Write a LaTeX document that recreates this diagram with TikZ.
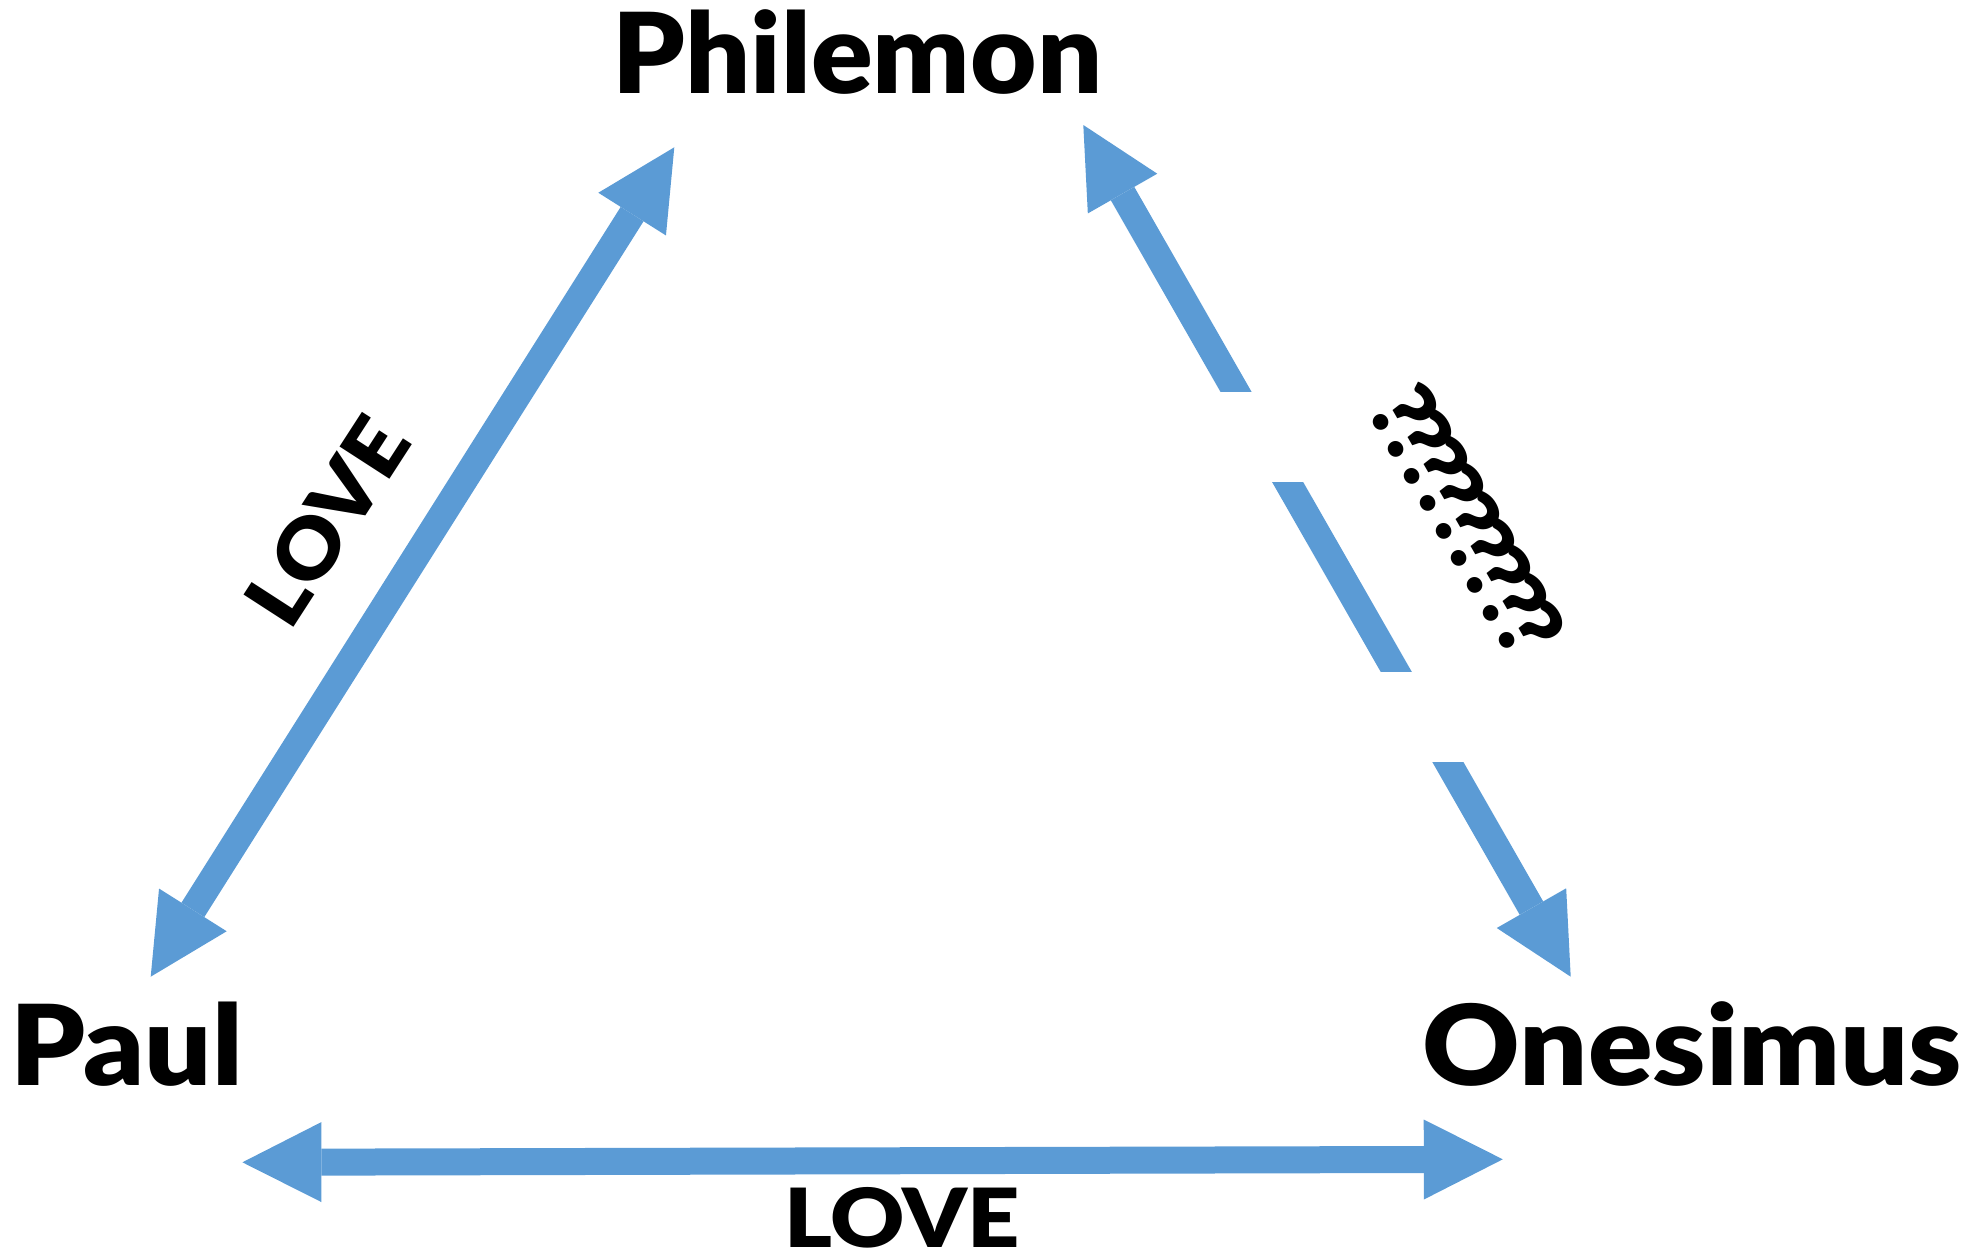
\documentclass[tikz,border=0pt]{standalone}
\usepackage{fontspec}
\usepackage{graphicx}
\usetikzlibrary{arrows.meta}
\IfFontExistsTF{Lato Black}{\newfontfamily\lbl{Lato Black}\def\lblwt{\relax}}{\newfontfamily\lbl{Lato}\def\lblwt{\bfseries}}
\definecolor{arrowblue}{HTML}{5B9BD5}
\newcommand\qmk{?\kern-11pt}
\newcommand\wide[2]{\scalebox{#1}[1]{#2}}
\tikzset{
  person/.style={font=\lbl\lblwt\fontsize{111.6}{130}\selectfont, inner sep=0pt, anchor=base},
  lovetext/.style={font=\lbl\lblwt\fontsize{81.6}{100}\selectfont, inner sep=0pt},
  qmarks/.style={font=\lbl\lblwt\fontsize{90}{100}\selectfont, inner sep=0pt},
  bigarrow/.style={draw=arrowblue, line width=27pt, >={Triangle[length=79pt,width=80pt,line width=0pt]}, <->},
  gap/.style={fill=white, draw=none}
}
\begin{document}
\begin{tikzpicture}[x=1pt,y=-1pt]
\useasboundingbox (0,0) rectangle (1973,1253);
% names
\node[person] (phil) at (857.5,93) {\wide{1.027}{Philemon}};
\node[person] (paul) at (126.5,1085) {\wide{1.06}{Paul}};
\node[person] (ones) at (1692.5,1085) {\wide{1.075}{Onesimus}};
% arrow end points
\coordinate (a1s) at (150.7,976.7);
\coordinate (a1e) at (674.3,147.3);
\coordinate (a2s) at (242.4,1162.3);
\coordinate (a2e) at (1502.8,1159.3);
\coordinate (a3s) at (1083.3,125);
\coordinate (a3e) at (1570.7,976.7);
% arrows
\draw[bigarrow] (a1s) -- (a1e);
\draw[bigarrow] (a2s) -- (a2e);
\draw[bigarrow] (a3s) -- (a3e);
% gaps in the Philemon--Onesimus arrow
\path[gap] (1180,391.7) rectangle (1345,482.3);
\path[gap] (1360,671.7) rectangle (1495,762.3);
% labels
\node[lovetext, rotate=57.1] (love1) at (327,521) {\wide{1.08}{LOVE}};
\node[lovetext, anchor=base] (love2) at (902,1247) {\wide{1.12}{LOVE}};
\node[qmarks, rotate=-60] (qm) at (1467,520) {\qmk\qmk\qmk\qmk\qmk\qmk\qmk\qmk?};
\end{tikzpicture}
\end{document}
